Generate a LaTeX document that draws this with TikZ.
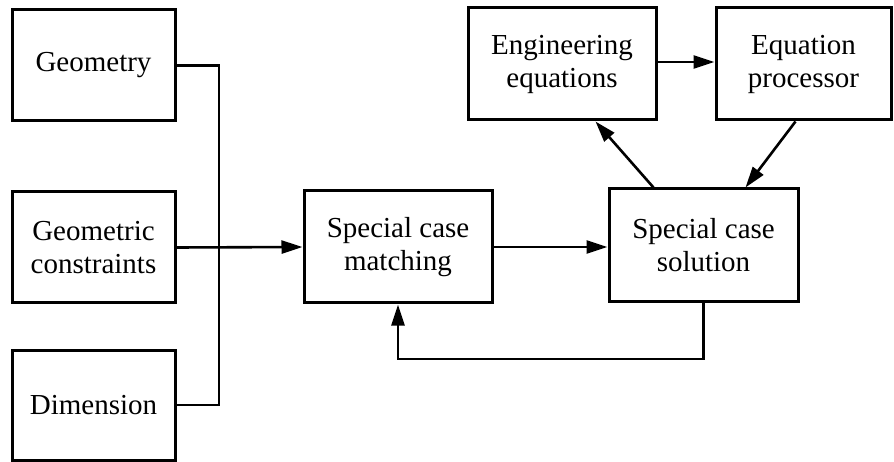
\documentclass[tikz,border=0pt]{standalone}
\usepackage{fontspec}
\setmainfont{Liberation Serif}
\usetikzlibrary{arrows.meta,calc}
\begin{document}
\begin{tikzpicture}[x=1pt,y=-1pt,
  blk/.style={draw,line width=3pt,rectangle,align=center,inner sep=0pt,
    font=\fontsize{29}{33}\selectfont},
  wire/.style={line width=2.6pt},
  arr/.style={wire,-{Triangle[length=21pt,width=13pt]}}]
\useasboundingbox (0,0) rectangle (894,462);

% input blocks
\node[blk,minimum width=163pt,minimum height=111pt] (geo) at (93.5,65.5) {Geometry};
\node[blk,minimum width=163pt,minimum height=111pt] (con) at (93.5,247.5) {Geometric\\constraints};
\node[blk,minimum width=163pt,minimum height=110pt] (dim) at (93.5,405) {Dimension};

% processing blocks
\node[blk,minimum width=188pt,minimum height=112pt] (match) at (398,247) {Special case\\matching};
\node[blk,minimum width=189pt,minimum height=113pt] (sol) at (703.5,245.5) {Special case\\solution};
\node[blk,minimum width=188pt,minimum height=112pt] (eng) at (562,64) {Engineering\\equations};
\node[blk,minimum width=175pt,minimum height=112pt] (proc) at (803.5,64) {Equation\\processor};

% collecting bus
\coordinate (bus) at (219,247.5);
\draw[wire] (geo.east) -| (bus);
\draw[wire] (dim.east) -| (bus);
\draw[arr] (con.east) -- (match.west);

\draw[arr] (match.east) -- (match.east -| sol.west);
\draw[arr] (eng.east |- 0,62) -- (proc.west |- 0,62);

% equation loop
\coordinate (solA) at ($(sol.north west)+(46,0)$);
\coordinate (engB) at ($(eng.south west)+(129,0)$);
\coordinate (procB) at ($(proc.south west)+(81,0)$);
\coordinate (solB) at ($(sol.north west)+(138,0)$);
\draw[arr] (solA) -- (engB);
\draw[arr] (procB) -- (solB);

% feedback
\coordinate (fb) at (703.5,359);
\draw[arr] (sol.south) -- (fb) -| (match.south);
\end{tikzpicture}
\end{document}
